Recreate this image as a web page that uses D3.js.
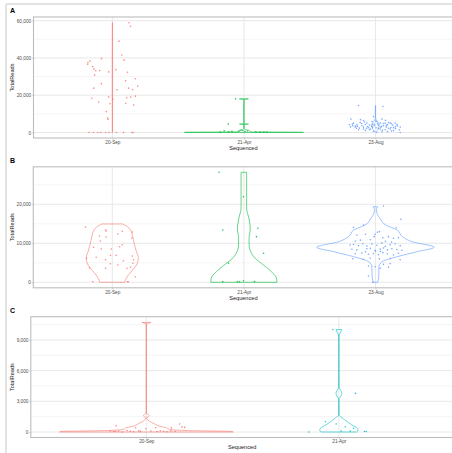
<!DOCTYPE html>
<html>
<head>
<meta charset="utf-8">
<script src="https://cdnjs.cloudflare.com/ajax/libs/d3/7.8.5/d3.min.js"></script>
<style>
body{margin:0;background:#fff}
svg{display:block}
text{font-family:"Liberation Sans",Arial,sans-serif}
</style>
</head>
<body>
<div id="chart"></div>
<script>
var W = 452, H = 453;

// categories + colours
var catsAB = ["20-Sep", "21-Apr", "23-Aug"];
var catsC = ["20-Sep", "21-Apr"];
var colorsAB = ["#F8766D", "#00BA38", "#619CFF"];
var colorsC = ["#F8766D", "#00BFC4"];

// y ticks and data max per panel
var ticksA = [0, 20000, 40000, 60000], minorA = [10000, 30000, 50000], maxA = 59000;
var ticksB = [0, 10000, 20000], minorB = [5000, 15000, 25000], maxB = 28200;
var ticksC = [0, 3000, 6000, 9000], minorC = [1500, 4500, 7500, 10500], maxC = 10730;

// jittered points: [jitter as fraction of category step, TotalReads]
var ptsA_sep = [[-0.178,0],[-0.144,0],[-0.112,0],[-0.089,0],[-0.051,0],[-0.026,0],[0.030,0],[0.084,0],[0.149,0],[0.157,0],
  [0.126,58900],[0.137,57000],[0.050,49000],[0.071,41600],[0.088,38800],[-0.084,39600],[-0.170,38400],[-0.186,37500],
  [-0.188,36600],[-0.150,35400],[-0.140,34100],[-0.127,33100],[-0.097,33200],[-0.028,32500],[0.027,33700],[0.114,32300],
  [-0.135,30900],[0.175,28800],[0.101,27700],[-0.084,26200],[0.192,24900],[0.122,23800],[-0.142,23800],[0.154,22900],
  [0.035,22900],[0.175,19500],[0.139,19000],[0.109,18600],[-0.028,19100],[-0.157,18400],[0.002,17900],[-0.104,16300],
  [0.101,15700],[-0.018,15400],[0.162,14700],[-0.046,11200],[-0.036,7700],[-0.033,7000]];
var ptsA_apr = [[-0.064,18050],[-0.119,4500],[-0.180,300],[-0.150,900],[-0.117,400],[-0.091,600],[-0.038,700],[-0.023,1200],
  [-0.008,900],[0.008,500],[0.027,800],[0.091,300],[0.122,200],[0.152,200],[0.175,300]];
var ptsA_aug = [[-0.129,14460],[0.056,13930],[-0.015,8570],[-0.187,7180],[0.049,7180],[-0.091,6430],[-0.167,5040],[-0.116,5360],
  [-0.065,5040],[-0.027,5890],[0.011,5890],[0.036,5040],[0.074,5040],[0.112,5040],[0.150,5040],[-0.198,4120],[-0.172,3590],
  [-0.141,4120],[-0.103,3590],[-0.078,4290],[-0.046,3960],[-0.010,4500],[0.023,3960],[0.061,3590],[0.091,4290],[0.132,3960],
  [0.163,4290],[-0.154,2890],[-0.122,2360],[-0.091,2890],[-0.061,3210],[-0.020,2890],[0.005,2520],[0.041,2890],[0.081,2890],
  [0.117,2680],[0.152,3210],[0.188,2890],[-0.129,1450],[-0.091,1820],[-0.046,1450],[0.036,1820],[0.074,1450],[0.112,1820],
  [0.182,1450],[-0.015,540],[0.011,0],[0.049,370],[0.091,540],[0.137,1070],[0.188,0],[-0.152,3400],[-0.106,4800],[-0.068,2200],
  [-0.030,3300],[0.015,4700],[0.046,3300],[0.084,3800],[0.122,4700],[0.167,3600],[-0.190,3000],[-0.137,3300],[-0.084,5600],
  [-0.053,2600],[-0.008,3700],[0.023,2200],[0.061,4800],[0.099,2300],[0.137,2600],[-0.175,4500],[-0.038,1900],[0,6200],
  [0.076,6500],[-0.114,6900],[0.152,2200],[-0.076,1100],[0.122,800],[-0.144,2300],[0.053,1200],[-0.023,4300],[0.099,5300]];

var ptsB_sep = [[-0.203,14180],[-0.051,13410],[-0.046,13150],[0.076,13080],[0.152,12900],[0.043,12380],[-0.097,11870],
  [-0.046,11610],[0.149,11360],[-0.091,10590],[0.076,9640],[-0.142,8970],[0.056,9130],[-0.084,8540],[-0.008,8540],
  [-0.122,6410],[-0.013,6920],[0.030,6920],[0.152,6740],[-0.195,6150],[-0.051,5800],[0.084,5540],[0.162,5800],[0.157,4870],
  [-0.015,4770],[0.043,4440],[-0.051,3590],[-0.173,3670],[0.112,3590],[0.139,3850],[0.175,1440],[-0.148,150],[0.114,150],[0.122,150]];
var ptsB_apr = [[-0.188,28200],[-0.003,21950],[-0.160,13410],[0.106,13850],[0.096,11700],[0.150,7440],[-0.117,4870],
  [-0.160,150],[-0.049,150],[-0.033,150],[-0.003,400],[0.081,200]];
var ptsB_aug = [[0.061,19560],[0.193,16150],[-0.167,14100],[-0.091,14690],[0.157,14000],[-0.141,12130],[-0.076,12300],
  [-0.010,11700],[-0.002,12300],[0.015,12820],[0.030,12980],[0.056,11440],[0.099,11700],[0.137,11280],[0.175,11440],
  [-0.192,9560],[-0.167,9700],[-0.129,9400],[-0.096,9900],[-0.065,9300],[-0.027,9800],[0.011,9500],[0.049,10100],[0.074,9200],
  [0.112,9600],[0.150,9900],[0.188,9400],
  [-0.179,8460],[-0.141,8300],[-0.065,8600],[-0.040,8700],[-0.002,8200],[0.036,8500],[0.061,8800],[0.091,8300],[0.125,8600],
  [0.163,8400],[0.201,8200],
  [-0.154,7330],[-0.103,7500],[-0.053,7200],[-0.015,7400],[0.023,7100],[0.056,7600],[0.091,7300],[0.137,7000],[0.175,7450],
  [-0.172,6050],[-0.091,5900],[-0.040,6200],[0.030,6000],[0.112,6100],[0.188,5800],
  [-0.053,4180],[-0.002,4000],[0.099,3900],[0.036,3590],[0.112,4800],[0.061,4600],[-0.053,1620],[-0.020,0],
  [-0.114,10800],[0.076,10500],[-0.038,10900],[0.122,10300],[-0.152,10600],[0,8000],[-0.076,7800],[0.038,7900]];

var ptsC_sep = [[-0.157,615],[-0.056,420],[-0.002,320],[0.048,420],[0.130,400],[0.173,780],[0.185,500],[0.199,450],
  [-0.170,50],[-0.144,100],[-0.126,0],[-0.100,150],[-0.083,80],[-0.066,30],[-0.040,120],[-0.031,60],[0.024,100],
  [0.056,40],[0.073,130],[0.090,70],[0.107,20],[0.128,110],[0.150,60],[-0.187,100],[-0.161,60]];
var ptsC_apr = [[-0.031,10010],[0.086,3770],[-0.070,1000],[-0.014,780],[0.033,520],[0.076,360],[-0.156,0],
  [0.012,100],[0.059,100],[0.133,50],[0.142,50]];

// violin outlines: [TotalReads, half width as fraction of category step]
var vioA_sep = [[0,0.001],[30000,0.0015],[59000,0.001]];
var vioA_apr = [[0,0.452],[120,0.452],[350,0.06],[700,0.042],[1100,0.04],[1500,0.01],[2500,0.001],[4300,0.001],
  [4500,0.034],[4700,0.001],[17700,0.001],[18050,0.034]];
var vioA_aug = [[200,0.001],[1000,0.012],[2500,0.025],[4000,0.028],[5500,0.02],[6500,0.008],[8000,0.001],[14460,0.001]];

var vioB_sep = [[0,0.095],[1000,0.106],[2300,0.133],[3500,0.163],[4440,0.184],[5500,0.196],[6150,0.198],[7000,0.194],
  [8000,0.182],[9130,0.173],[10500,0.163],[11700,0.156],[12700,0.148],[13400,0.139],[14200,0.118],[14950,0.080]];
var vioB_apr = [[0,0.251],[410,0.251],[1440,0.243],[2720,0.209],[4870,0.133],[6000,0.09],[7000,0.066],[8000,0.05],
  [9560,0.040],[11700,0.040],[13410,0.049],[14690,0.047],[17250,0.032],[18540,0.022],[20000,0.021],[28200,0.021]];
var vioB_aug = [[0,0.017],[1440,0.025],[4000,0.027],[5280,0.051],[6560,0.165],[7850,0.317],[8970,0.446],[10410,0.278],
  [11700,0.205],[13410,0.165],[14690,0.078],[16410,0.034],[17800,0.011],[18700,0.008],[19390,0.017]];

var vioC_sep = [[0,0.451],[60,0.441],[120,0.259],[200,0.145],[300,0.114],[420,0.104],[520,0.078],[650,0.057],[800,0.042],
  [950,0.026],[1100,0.013],[1250,0.005],[1400,0.001],[1500,0.011],[1600,0.015],[1700,0.011],[1850,0.001],[2200,0.001],
  [10550,0.001],[10650,0.012],[10700,0.023]];
var vioC_apr = [[0,0.093],[150,0.099],[370,0.096],[700,0.067],[1000,0.044],[1180,0.031],[1400,0.016],[1660,0.001],
  [3185,0.001],[3500,0.010],[3770,0.015],[4050,0.010],[4360,0.001],[9460,0.001],[9700,0.008],[10010,0.015]];

var panels = [
  {tag:"A", cats:catsAB, colors:colorsAB, pts:[ptsA_sep, ptsA_apr, ptsA_aug], vio:[vioA_sep, vioA_apr, vioA_aug],
   max:maxA, ticks:ticksA, minor:minorA, box:[33.5, 17, 454.4, 138], tagY:13},
  {tag:"B", cats:catsAB, colors:colorsAB, pts:[ptsB_sep, ptsB_apr, ptsB_aug], vio:[vioB_sep, vioB_apr, vioB_aug],
   max:maxB, ticks:ticksB, minor:minorB, box:[33.3, 166.8, 454.4, 287.8], tagY:163},
  {tag:"C", cats:catsC, colors:colorsC, pts:[ptsC_sep, ptsC_apr], vio:[vioC_sep, vioC_apr],
   max:maxC, ticks:ticksC, minor:minorC, box:[30.8, 316.7, 454.4, 437.5], tagY:313}
];

var svg = d3.select("#chart").append("svg")
  .attr("width", W)
  .attr("height", H);

svg.append("rect").attr("width", W).attr("height", H).attr("fill", "#fff");

// light frame of the figure
svg.append("line").attr("x1", 6).attr("x2", 6).attr("y1", 4).attr("y2", H)
  .attr("stroke", "#d9d9d9").attr("stroke-width", 1.4);
svg.append("line").attr("x1", 6).attr("x2", W).attr("y1", 4).attr("y2", 4)
  .attr("stroke", "#d9d9d9").attr("stroke-width", 1.4);

var fmt = d3.format(",");

panels.forEach(function(p) {
  var L = p.box[0], T = p.box[1], R = p.box[2], B = p.box[3];
  var g = svg.append("g");

  var x = d3.scalePoint().domain(p.cats).range([L, R]).padding(0.6);
  var step = x.step();
  var y = d3.scaleLinear().domain([-0.05 * p.max, 1.05 * p.max]).range([B, T]);

  // grid
  g.selectAll(".minor").data(p.minor).enter().append("line")
    .attr("x1", L).attr("x2", R).attr("y1", y).attr("y2", y)
    .attr("stroke", "#efefef").attr("stroke-width", 0.6);
  g.selectAll(".major").data(p.ticks).enter().append("line")
    .attr("x1", L).attr("x2", R).attr("y1", y).attr("y2", y)
    .attr("stroke", "#e2e2e2").attr("stroke-width", 0.8);
  g.selectAll(".vgrid").data(p.cats).enter().append("line")
    .attr("x1", x).attr("x2", x).attr("y1", T).attr("y2", B)
    .attr("stroke", "#e2e2e2").attr("stroke-width", 0.8);

  // violins
  p.cats.forEach(function(c, i) {
    var cx = x(c);
    var area = d3.area()
      .curve(d3.curveMonotoneY)
      .y(function(d) { return y(d[0]); })
      .x0(function(d) { return cx - d[1] * step; })
      .x1(function(d) { return cx + d[1] * step; });
    g.append("path")
      .attr("d", area(p.vio[i]))
      .attr("fill", "none")
      .attr("stroke", p.colors[i])
      .attr("stroke-width", 0.6);
  });

  // points
  p.cats.forEach(function(c, i) {
    var cx = x(c);
    g.selectAll(null).data(p.pts[i]).enter().append("circle")
      .attr("cx", function(d) { return cx + d[0] * step; })
      .attr("cy", function(d) { return y(d[1]); })
      .attr("r", 0.8)
      .attr("fill", p.colors[i])
      .attr("opacity", 0.85);
  });

  // border
  g.append("rect").attr("x", L).attr("y", T).attr("width", R - L).attr("height", B - T)
    .attr("fill", "none").attr("stroke", "#bdbdbd").attr("stroke-width", 1.1);

  // y axis
  var ya = g.append("g").attr("transform", "translate(" + L + ",0)")
    .call(d3.axisLeft(y).tickValues(p.ticks).tickFormat(fmt).tickSize(1.6).tickPadding(0.8));
  ya.select(".domain").remove();
  ya.selectAll("line").attr("stroke", "#b3b3b3").attr("stroke-width", 0.6);
  ya.selectAll("text").attr("fill", "#4d4d4d").style("font-size", "4.7px")
    .style("font-family", "'Liberation Sans', Arial, sans-serif");

  // x axis
  var xa = g.append("g").attr("transform", "translate(0," + B + ")")
    .call(d3.axisBottom(x).tickSize(1.6).tickPadding(1));
  xa.select(".domain").remove();
  xa.selectAll("line").attr("stroke", "#b3b3b3").attr("stroke-width", 0.6);
  xa.selectAll("text").attr("fill", "#4d4d4d").style("font-size", "4.7px")
    .style("font-family", "'Liberation Sans', Arial, sans-serif");

  // titles
  g.append("text").attr("x", (L + R) / 2 - 0.5).attr("y", B + 11.8)
    .attr("text-anchor", "middle").style("font-size", "5.6px").attr("fill", "#1a1a1a")
    .text("Sequenced");
  g.append("text").attr("transform", "translate(13.6," + (T + B) / 2 + ") rotate(-90)")
    .attr("text-anchor", "middle").style("font-size", "5.6px").attr("fill", "#1a1a1a")
    .text("TotalReads");
  g.append("text").attr("x", 10).attr("y", p.tagY)
    .style("font-size", "7px").style("font-weight", "bold").attr("fill", "#000")
    .text(p.tag);
});
</script>
</body>
</html>
